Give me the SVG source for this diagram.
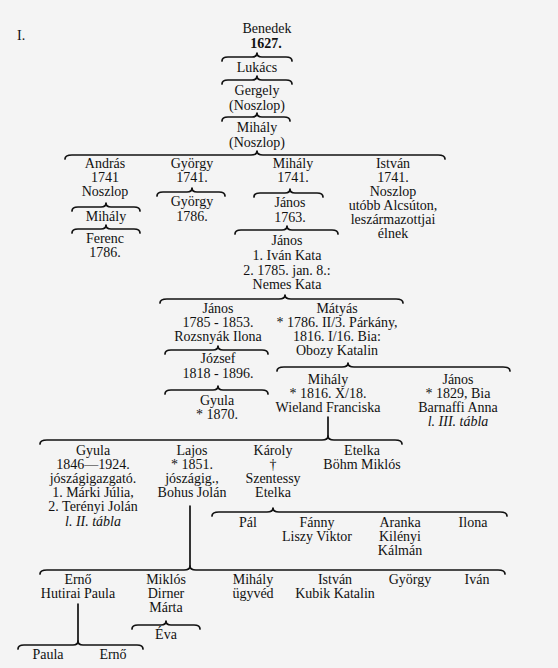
<svg xmlns="http://www.w3.org/2000/svg" width="558" height="668" viewBox="0 0 558 668">
<style>
text{font-family:"Liberation Serif","DejaVu Serif",serif;font-size:14px;fill:#111;text-anchor:middle}
.it{font-style:italic}
.b{font-weight:bold}
.br{fill:none;stroke:#111;stroke-width:1.7;stroke-linecap:round;stroke-linejoin:round}
</style>
<rect width="558" height="668" fill="#f4f4f4"/>
<text x="17" y="40" style="text-anchor:start">I.</text>
<g id="connectors" class="br">
<path d="M222,61 Q222,57 228,57 L252,57 Q257,57 257,53 Q257,57 262,57 L286,57 Q292,57 292,61"/>
<path d="M222,84 Q222,80 228,80 L252,80 Q257,80 257,76 Q257,80 262,80 L286,80 Q292,80 292,84"/>
<path d="M222,121 Q222,117 228,117 L252,117 Q257,117 257,113 Q257,117 262,117 L284,117 Q290,117 290,121"/>
<path d="M65,159 Q65,155 72,155 L251,155 Q257,155 257,151 Q257,155 263,155 L438,155 Q445,155 445,159"/>
<path d="M72,211 Q72,207 78,207 L101,207 Q106,207 106,203 Q106,207 111,207 L134,207 Q140,207 140,211"/>
<path d="M72,233 Q72,229 78,229 L101,229 Q106,229 106,225 Q106,229 111,229 L134,229 Q140,229 140,233"/>
<path d="M157,196 Q157,192 163,192 L187,192 Q192,192 192,188 Q192,192 197,192 L219,192 Q225,192 225,196"/>
<path d="M254,197 Q254,193 260,193 L285,193 Q290,193 290,189 Q290,193 295,193 L317,193 Q323,193 323,197"/>
<path d="M235,234 Q235,230 241,230 L282,230 Q287,230 287,226 Q287,230 292,230 L332,230 Q338,230 338,234"/>
<path d="M160,303 Q160,299 167,299 L279,299 Q285,299 285,295 Q285,299 291,299 L396,299 Q403,299 403,303"/>
<path d="M165,354 Q165,350 171,350 L213,350 Q218,350 218,346 Q218,350 223,350 L262,350 Q268,350 268,354"/>
<path d="M277,371 Q277,367 284,367 L342,367 Q348,367 348,363 Q348,367 354,367 L503,367 Q510,367 510,371"/>
<path d="M165,394 Q165,390 171,390 L213,390 Q218,390 218,386 Q218,390 223,390 L262,390 Q268,390 268,394"/>
<path d="M328,417 L328,436"/>
<path d="M40,444 Q40,440 47,440 L322,440 Q328,440 328,436 Q328,440 334,440 L395,440 Q402,440 402,444"/>
<path d="M212,516 Q212,512 219,512 L267,512 Q273,512 273,508 Q273,512 279,512 L500,512 Q507,512 507,516"/>
<path d="M190,506 L190,566"/>
<path d="M40,574 Q40,570 47,570 L184,570 Q190,570 190,566 Q190,570 196,570 L498,570 Q505,570 505,574"/>
<path d="M78,604 L78,641"/>
<path d="M18,649 Q18,645 24,645 L73,645 Q78,645 78,641 Q78,645 83,645 L137,645 Q143,645 143,649"/>
<path d="M132,629 Q132,625 138,625 L161,625 Q166,625 166,621 Q166,625 171,625 L194,625 Q200,625 200,629"/>
</g>
<g id="benedek"><text x="267" y="33">Benedek</text><text x="266" y="48" class="b">1627.</text></g>
<g id="lukacs"><text x="257" y="72">Lukács</text></g>
<g id="gergely"><text x="257" y="95">Gergely</text><text x="257" y="110">(Noszlop)</text></g>
<g id="mihaly1"><text x="257" y="132">Mihály</text><text x="257" y="147">(Noszlop)</text></g>
<g id="andras"><text x="105" y="168">András</text><text x="105" y="182">1741</text><text x="105" y="196">Noszlop</text></g>
<g id="mihaly2"><text x="106" y="221">Mihály</text></g>
<g id="ferenc"><text x="105" y="243">Ferenc</text><text x="105" y="257">1786.</text></g>
<g id="gyorgy1"><text x="192" y="168">György</text><text x="192" y="182">1741.</text></g>
<g id="gyorgy2"><text x="192" y="206">György</text><text x="192" y="221">1786.</text></g>
<g id="mihaly3"><text x="293" y="168">Mihály</text><text x="293" y="182">1741.</text></g>
<g id="janos1"><text x="290" y="207">János</text><text x="290" y="222">1763.</text></g>
<g id="janos2"><text x="287" y="245">János</text><text x="287" y="260">1. Iván Kata</text><text x="287" y="275">2. 1785. jan. 8.:</text><text x="287" y="289">Nemes Kata</text></g>
<g id="istvan1"><text x="393" y="168">István</text><text x="393" y="182">1741.</text><text x="393" y="196">Noszlop</text><text x="393" y="210">utóbb Alcsúton,</text><text x="393" y="224">leszármazottjai</text><text x="393" y="238">élnek</text></g>
<g id="janos3"><text x="218" y="313">János</text><text x="218" y="327">1785 - 1853.</text><text x="218" y="341">Rozsnyák Ilona</text></g>
<g id="jozsef"><text x="218" y="363">József</text><text x="218" y="378">1818 - 1896.</text></g>
<g id="gyula1"><text x="217" y="405">Gyula</text><text x="217" y="419">* 1870.</text></g>
<g id="matyas"><text x="337" y="313">Mátyás</text><text x="337" y="327">* 1786. II/3. Párkány,</text><text x="337" y="341">1816. I/16. Bia:</text><text x="337" y="355">Obozy Katalin</text></g>
<g id="mihaly4"><text x="328" y="384">Mihály</text><text x="328" y="398">* 1816. X/18.</text><text x="328" y="412">Wieland Franciska</text></g>
<g id="janos4"><text x="458" y="384">János</text><text x="458" y="398">* 1829, Bia</text><text x="458" y="412">Barnaffi Anna</text><text x="458" y="426" class="it">l. III. tábla</text></g>
<g id="gyula2"><text x="93" y="455">Gyula</text><text x="93" y="469">1846—1924.</text><text x="93" y="483">jószágigazgató.</text><text x="93" y="497">1. Márki Júlia,</text><text x="93" y="511">2. Terényi Jolán</text><text x="93" y="526" class="it">l. II. tábla</text></g>
<g id="lajos"><text x="192" y="455">Lajos</text><text x="192" y="469">* 1851.</text><text x="192" y="483">jószágig.,</text><text x="192" y="497">Bohus Jolán</text></g>
<g id="karoly"><text x="273" y="455">Károly</text><text x="273" y="469">†</text><text x="273" y="483">Szentessy</text><text x="273" y="497">Etelka</text></g>
<g id="etelka"><text x="362" y="455">Etelka</text><text x="362" y="469">Böhm Miklós</text></g>
<g id="pal"><text x="248" y="527">Pál</text></g>
<g id="fanny"><text x="317" y="527">Fánny</text><text x="317" y="541">Liszy Viktor</text></g>
<g id="aranka"><text x="400" y="527">Aranka</text><text x="400" y="541">Kilényi</text><text x="400" y="555">Kálmán</text></g>
<g id="ilona"><text x="473" y="527">Ilona</text></g>
<g id="erno1"><text x="78" y="584">Ernő</text><text x="78" y="598">Hutirai Paula</text></g>
<g id="miklos"><text x="166" y="584">Miklós</text><text x="166" y="598">Dirner</text><text x="166" y="612">Márta</text></g>
<g id="eva"><text x="166" y="639">Éva</text></g>
<g id="mihaly5"><text x="253" y="584">Mihály</text><text x="253" y="598">ügyvéd</text></g>
<g id="istvan2"><text x="335" y="584">István</text><text x="335" y="598">Kubik Katalin</text></g>
<g id="gyorgy3"><text x="410" y="584">György</text></g>
<g id="ivan"><text x="477" y="584">Iván</text></g>
<g id="paula"><text x="48" y="659">Paula</text></g>
<g id="erno2"><text x="113" y="659">Ernő</text></g>
</svg>
